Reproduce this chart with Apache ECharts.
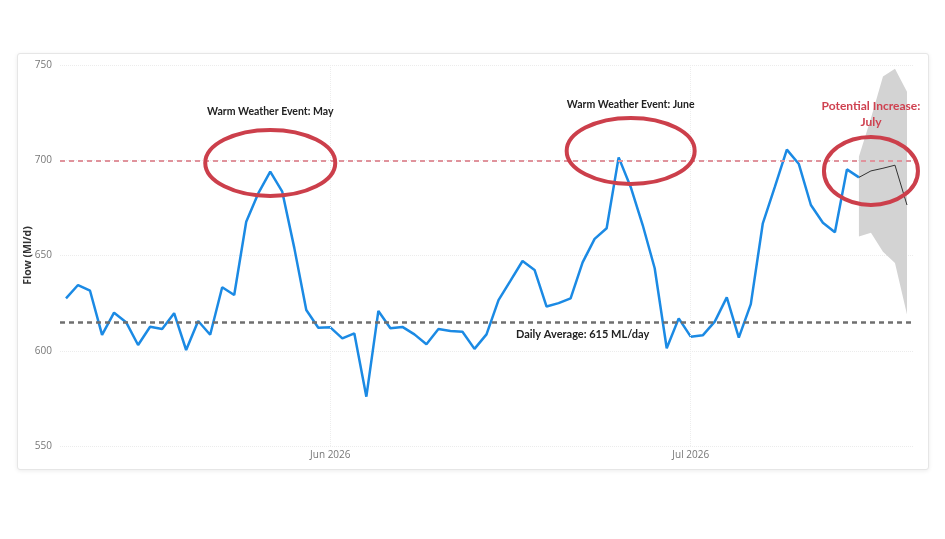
<!DOCTYPE html>
<html>
<head>
<meta charset="utf-8">
<script src="https://cdn.jsdelivr.net/npm/echarts@6/dist/echarts.min.js"></script>
<style>
  html, body { margin: 0; padding: 0; background: #fff; }
  #card {
    position: absolute; left: 17px; top: 53px; width: 910px; height: 415px;
    border: 1px solid #e6e6e6; border-radius: 3px;
    box-shadow: 0 1px 4px rgba(0,0,0,0.08); background: #fff;
  }
  #chart { width: 910px; height: 415px; }
</style>
</head>
<body>
<div id="card"><div id="chart"></div></div>
<script>
// daily dates, 10 May 2026 .. 19 Jul 2026
const startDate = new Date(Date.UTC(2026, 4, 10));
const dayCount = 71;
const dates = [];
for (let i = 0; i < dayCount; i++) {
  const d = new Date(startDate.getTime() + i * 86400000);
  dates.push(d.toISOString().slice(0, 10));
}

// observed flow (Ml/d), 10 May .. 15 Jul
const flowValues = [
  627.5, 634.5, 631.5, 608.3, 620, 615, 603, 612.6, 611.4, 619.7,
  600.4, 615.6, 608.4, 633.3, 629.3, 667.7, 682.6, 694, 683.5, 654,
  621.4, 612.1, 612.3, 606.5, 609.1, 575.9, 620.9, 611.8, 612.5, 608.6,
  603.4, 611.4, 610.4, 610, 601, 608.6, 626.6, 636.8, 647.1, 642.4,
  623.2, 625, 627.5, 646.4, 658.7, 664.3, 701.5, 686, 666, 643.3,
  601.3, 617, 607.4, 608.1, 615.3, 628, 606.9, 624.5, 666.9, 686,
  705.6, 698, 676.5, 667.2, 662.2, 695.2, 691
];

// forecast, 15 Jul .. 19 Jul
const forecastStart = 66;
const forecastValues = [691, 694.4, 695.8, 697.4, 676.5];
const forecastLower = [660, 662, 652, 646, 619];
const forecastUpper = [702, 722, 744, 748, 736];

const yTicks = { min: 550, max: 750, step: 50 };
const averageFlow = 615;
const thresholdFlow = 700;

const pad = (arr, offset) => {
  const out = new Array(dayCount).fill(null);
  arr.forEach((v, i) => { out[offset + i] = v; });
  return out;
};

const bandBase = pad(forecastLower, forecastStart);
const bandWidth = pad(forecastUpper.map((u, i) => +(u - forecastLower[i]).toFixed(1)), forecastStart);

const fontFamily = "'Open Sans', 'Noto Sans', sans-serif";
const noteFont = "Lato, 'Open Sans', sans-serif";

const chart = echarts.init(document.getElementById("chart"));

const option = {
  animation: false,
  grid: { left: 42, right: 15, top: 11, bottom: 23, outerBoundsMode: "none" },
  xAxis: {
    type: "category",
    data: dates,
    boundaryGap: true,
    axisLine: { show: false },
    axisTick: { show: false },
    splitLine: { show: false },
    axisLabel: {
      interval: (idx, val) => val.slice(8) === "01",
      formatter: (val) => {
        const months = ["Jan","Feb","Mar","Apr","May","Jun","Jul","Aug","Sep","Oct","Nov","Dec"];
        return months[+val.slice(5, 7) - 1] + " " + val.slice(0, 4);
      },
      color: "#777",
      fontSize: 10,
      fontFamily,
      margin: 4
    }
  },
  yAxis: {
    type: "value",
    min: yTicks.min,
    max: yTicks.max,
    interval: yTicks.step,
    name: "Flow (Ml/d)",
    nameLocation: "middle",
    nameGap: 26,
    nameMoveOverlap: false,
    nameTextStyle: { color: "#333", fontSize: 10.5, fontWeight: "bold", fontFamily },
    axisLine: { show: false },
    axisTick: { show: false },
    axisLabel: { color: "#777", fontSize: 10, fontFamily, margin: 8 },
    splitLine: { lineStyle: { color: "#ececec", type: "dotted", width: 1 } }
  },
  series: [
    {
      name: "band base",
      type: "line",
      data: bandBase,
      stack: "band",
      symbol: "none",
      lineStyle: { opacity: 0 },
      silent: true
    },
    {
      name: "band",
      type: "line",
      data: bandWidth,
      stack: "band",
      symbol: "none",
      lineStyle: { opacity: 0 },
      areaStyle: { color: "#d3d3d3", opacity: 1 },
      silent: true
    },
    {
      name: "Flow",
      type: "line",
      data: pad(flowValues, 0),
      symbol: "none",
      lineStyle: { color: "#1b8ae4", width: 2.5 },
      markLine: {
        symbol: "none",
        silent: true,
        label: { show: false },
        data: [
          { yAxis: thresholdFlow, lineStyle: { color: "#e0939c", type: [5, 4], width: 2 } },
          { yAxis: averageFlow, lineStyle: { color: "#6f6f6f", type: [5, 4], width: 2.5 } },
          { xAxis: "2026-06-01", lineStyle: { color: "#ededed", type: "dotted", width: 1 } },
          { xAxis: "2026-07-01", lineStyle: { color: "#ededed", type: "dotted", width: 1 } }
        ]
      }
    },
    {
      name: "Forecast",
      type: "line",
      data: pad(forecastValues, forecastStart),
      symbol: "none",
      lineStyle: { color: "#333", width: 1 }
    }
  ]
};

chart.setOption(option);

// annotations anchored to data coordinates (category index, value)
const annotations = [
  { kind: "text", at: [17.4, 725.3], text: "Warm Weather Event: May", color: "#222", size: 10.5 },
  { kind: "ellipse", at: [17.4, 698.6], rx: 65, ry: 33 },
  { kind: "text", at: [46.96, 729], text: "Warm Weather Event: June", color: "#222", size: 10.5 },
  { kind: "ellipse", at: [46.96, 704.9], rx: 64, ry: 33 },
  { kind: "text", at: [67.35, 724], text: "Potential Increase:\nJuly", color: "#cf4150", size: 12 },
  { kind: "ellipse", at: [67.36, 694.4], rx: 47, ry: 34 },
  { kind: "text", at: [42.9, 608.3], text: "Daily Average: 615 ML/day", color: "#222", size: 11 }
];

const graphics = annotations.map((a) => {
  const p = chart.convertToPixel({ gridIndex: 0 }, a.at);
  if (a.kind === "ellipse") {
    return {
      type: "ellipse",
      shape: { cx: p[0], cy: p[1], rx: a.rx, ry: a.ry },
      style: { fill: "none", stroke: "#cc3f4b", lineWidth: 4 },
      z: 100
    };
  }
  return {
    type: "text",
    x: p[0],
    y: p[1],
    style: {
      text: a.text,
      fill: a.color,
      fontFamily: noteFont,
      fontWeight: "bold",
      fontSize: a.size,
      align: "center",
      verticalAlign: "middle",
      lineHeight: 16
    },
    z: 100
  };
});

chart.setOption({ graphic: graphics });
</script>
</body>
</html>
